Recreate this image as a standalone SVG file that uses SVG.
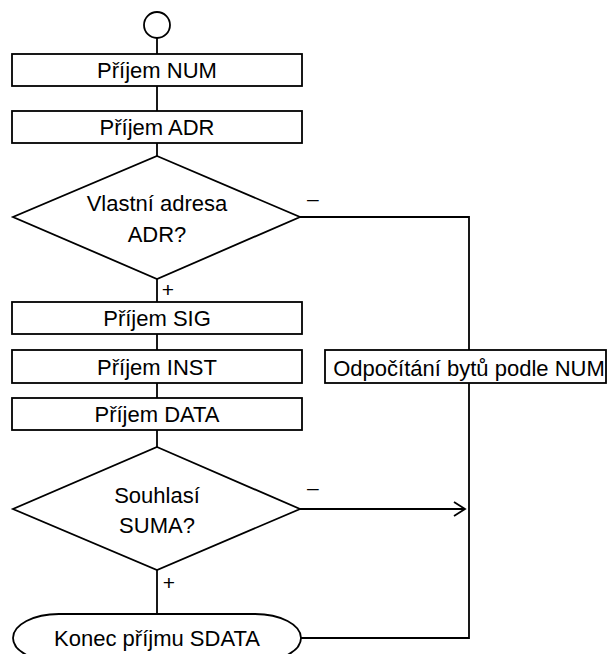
<svg xmlns="http://www.w3.org/2000/svg" width="607" height="654" viewBox="0 0 607 654">
<defs>
<style>
.n{fill:#fff;stroke:#000;stroke-width:1.8}
.t{font-family:"Liberation Sans",Arial,sans-serif;font-size:22px;fill:#000;text-anchor:middle}
.s{font-family:"Liberation Sans",Arial,sans-serif;font-size:21px;fill:#000}
.c{fill:none;stroke:#000;stroke-width:1.8}
</style>
<marker id="ah" markerWidth="14" markerHeight="16" refX="12" refY="8" orient="auto" markerUnits="userSpaceOnUse">
<path d="M1,1 L12,8 L1,15" fill="none" stroke="#000" stroke-width="1.8"/>
</marker>
</defs>
<rect width="607" height="654" fill="#fff"/>
<g id="connectors">
<line class="c" x1="157" y1="38" x2="157" y2="54"/>
<line class="c" x1="157" y1="86" x2="157" y2="111"/>
<line class="c" x1="157" y1="143" x2="157" y2="156"/>
<line class="c" x1="157" y1="279" x2="157" y2="302"/>
<line class="c" x1="157" y1="334" x2="157" y2="350"/>
<line class="c" x1="157" y1="383" x2="157" y2="398"/>
<line class="c" x1="157" y1="430" x2="157" y2="447"/>
<line class="c" x1="157" y1="570" x2="157" y2="614"/>
<polyline class="c" points="300,217 469,217 469,350"/>
<polyline class="c" points="469,383 469,638 301,638"/>
<line class="c" x1="300" y1="509" x2="465" y2="509" marker-end="url(#ah)"/>
<text class="s" x="168" y="297" text-anchor="middle">+</text>
<text class="s" x="169" y="590" text-anchor="middle">+</text>
<text class="s" x="307" y="206">–</text>
<text class="s" x="307" y="495">–</text>
</g>
<g id="start">
<circle class="n" cx="157" cy="25" r="13"/>
</g>
<g id="num">
<rect class="n" x="12" y="54" width="290" height="32"/>
<text class="t" x="157" y="78">Příjem NUM</text>
</g>
<g id="adr">
<rect class="n" x="12" y="111" width="290" height="32"/>
<text class="t" x="157" y="135">Příjem ADR</text>
</g>
<g id="dec1">
<polygon class="n" points="157,156 300,217 157,279 13,217"/>
<text class="t" x="157" y="211">Vlastní adresa</text>
<text class="t" x="157" y="242">ADR?</text>
</g>
<g id="sig">
<rect class="n" x="12" y="302" width="290" height="32"/>
<text class="t" x="157" y="326">Příjem SIG</text>
</g>
<g id="inst">
<rect class="n" x="12" y="350" width="290" height="33"/>
<text class="t" x="157" y="375">Příjem INST</text>
</g>
<g id="data">
<rect class="n" x="12" y="398" width="290" height="32"/>
<text class="t" x="157" y="422">Příjem DATA</text>
</g>
<g id="dec2">
<polygon class="n" points="157,447 300,509 157,570 13,509"/>
<text class="t" x="157" y="503">Souhlasí</text>
<text class="t" x="157" y="533">SUMA?</text>
</g>
<g id="count">
<rect class="n" x="325" y="350" width="281" height="33"/>
<text class="t" x="469" y="376">Odpočítání bytů podle NUM</text>
</g>
<g id="end">
<rect class="n" x="13" y="614" width="288" height="48" rx="46" ry="24"/>
<text class="t" x="157" y="646">Konec příjmu SDATA</text>
</g>
</svg>
